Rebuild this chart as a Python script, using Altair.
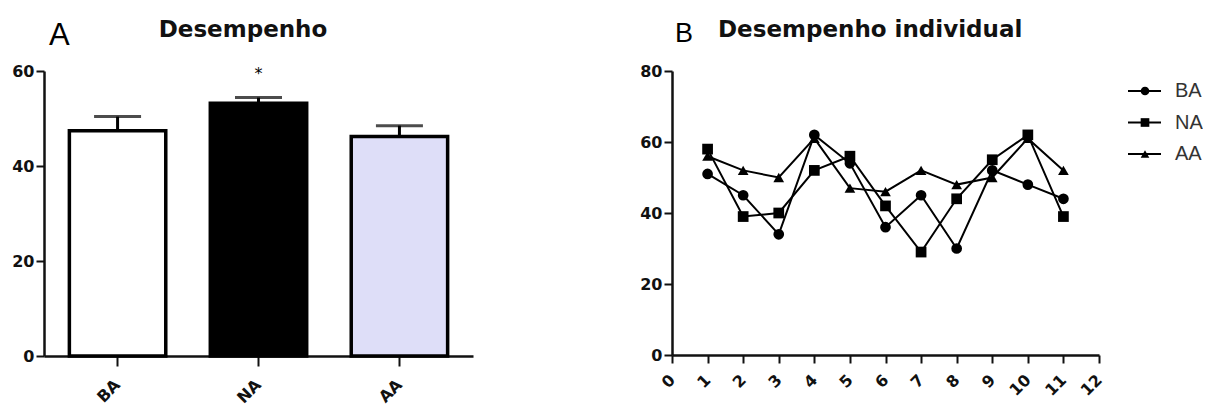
import altair as alt
import pandas as pd

# ---- Panel A data ----
groups = ["BA", "NA", "AA"]
means = [47.4, 53.2, 46.2]
err_top = [50.4, 54.4, 48.5]
signif = ["", "*", ""]
bar_fills = ["#ffffff", "#000000", "#dedef8"]
y_ticks_a = [0, 20, 40, 60]

# ---- Panel B data ----
sessions = list(range(1, 12))
ba = [51, 45, 34, 62, 54, 36, 45, 30, 52, 48, 44]
na = [58, 39, 40, 52, 56, 42, 29, 44, 55, 62, 39]
aa = [56, 52, 50, 61, 47, 46, 52, 48, 50, 61, 52]
series = ["BA", "NA", "AA"]
shapes = ["circle", "square", "triangle-up"]
x_ticks_b = list(range(0, 13))
y_ticks_b = [0, 20, 40, 60, 80]

panel_letters = ["A", "B"]
panel_titles = ["Desempenho", "Desempenho individual"]

LABEL_FONT = "DejaVu Sans"

# ---------------- Panel A ----------------
bar_df = pd.DataFrame({"group": groups, "mean": means, "err": err_top, "sig": signif})

xA = alt.X("group:N", sort=groups, title=None,
           scale=alt.Scale(paddingInner=0.316, paddingOuter=0.18),
           axis=alt.Axis(labelAngle=-45, labelAlign="right", labelBaseline="middle",
                         labelPadding=16, tickSize=10))
yA = alt.Y("mean:Q", title=None, scale=alt.Scale(domain=[0, 60], nice=False),
           axis=alt.Axis(values=y_ticks_a, minExtent=28, maxExtent=28, labelPadding=2))

bars = alt.Chart(bar_df).mark_bar(stroke="black", strokeWidth=3.5).encode(
    x=xA, y=yA,
    fill=alt.Fill("group:N", scale=alt.Scale(domain=groups, range=bar_fills), legend=None),
)
errs = alt.Chart(bar_df).mark_rule(strokeWidth=3, color="black").encode(
    x=alt.X("group:N", sort=groups), y="mean:Q", y2="err:Q")
caps = alt.Chart(bar_df).mark_tick(color="black", size=47, thickness=3, orient="horizontal").encode(
    x=alt.X("group:N", sort=groups), y="err:Q")
stars = alt.Chart(bar_df).mark_text(dy=-24, fontSize=16, font=LABEL_FONT, baseline="middle").encode(
    x=alt.X("group:N", sort=groups), y="err:Q", text="sig:N")

letterA = alt.Chart(pd.DataFrame({"t": [panel_letters[0]]})).mark_text(
    align="left", baseline="alphabetic", fontSize=31, font="Liberation Sans", color="black"
).encode(text="t:N", x=alt.value(5), y=alt.value(-26))
titleA = alt.Chart(pd.DataFrame({"t": [panel_titles[0]]})).mark_text(
    align="center", baseline="alphabetic", fontSize=23, font=LABEL_FONT, fontWeight="bold", color="#111"
).encode(text="t:N", x=alt.value(199), y=alt.value(-34))

chartA = alt.layer(bars, errs, caps, stars, letterA, titleA).properties(width=429, height=285)

# ---------------- Panel B ----------------
long_df = pd.DataFrame({
    "session": sessions * 3,
    "value": ba + na + aa,
    "series": [series[0]] * len(ba) + [series[1]] * len(na) + [series[2]] * len(aa),
})

xB = alt.X("session:Q", title=None, scale=alt.Scale(domain=[0, 12], nice=False),
           axis=alt.Axis(values=x_ticks_b, labelAngle=-45, labelAlign="right",
                         labelBaseline="middle", labelPadding=14))
yB = alt.Y("value:Q", title=None, scale=alt.Scale(domain=[0, 80], nice=False),
           axis=alt.Axis(values=y_ticks_b, minExtent=28, maxExtent=28, labelPadding=2))
shape_scale = alt.Scale(domain=series, range=shapes)

lines = alt.Chart(long_df).mark_line(color="black", strokeWidth=2).encode(
    x=xB, y=yB, detail="series:N")
pts = alt.Chart(long_df).mark_point(filled=True, color="black", size=115, opacity=1).encode(
    x=xB, y=yB, shape=alt.Shape("series:N", scale=shape_scale, legend=None))
main = alt.layer(lines, pts)

leg_df = pd.DataFrame({"series": series})
legY = alt.Y("series:N", sort=series, axis=None,
             scale=alt.Scale(type="point", domain=series, range=[20, 83], padding=0))
leg_rule = alt.Chart(leg_df).mark_rule(strokeWidth=2, color="black").encode(
    x=alt.value(456), x2=alt.value(489), y=legY)
leg_pt = alt.Chart(leg_df).mark_point(filled=True, color="black", size=75, opacity=1).encode(
    x=alt.value(473), y=legY, shape=alt.Shape("series:N", scale=shape_scale, legend=None))
leg_txt = alt.Chart(leg_df).mark_text(align="left", baseline="middle", fontSize=20,
                                      font="Liberation Sans", color="#333").encode(
    x=alt.value(503), y=legY, text="series:N")
legend = alt.layer(leg_rule, leg_pt, leg_txt)

letterB = alt.Chart(pd.DataFrame({"t": [panel_letters[1]]})).mark_text(
    align="left", baseline="alphabetic", fontSize=27, font="Liberation Sans", color="black"
).encode(text="t:N", x=alt.value(3), y=alt.value(-29))
titleB = alt.Chart(pd.DataFrame({"t": [panel_titles[1]]})).mark_text(
    align="left", baseline="alphabetic", fontSize=23, font=LABEL_FONT, fontWeight="bold", color="#111"
).encode(text="t:N", x=alt.value(46), y=alt.value(-34))

chartB = alt.layer(main, legend, letterB, titleB).resolve_scale(y="independent").properties(
    width=427, height=284)

chart = alt.hconcat(chartA, chartB, spacing=166).properties(
    padding={"left": 11, "top": 19, "right": 0, "bottom": 0}
).configure_view(stroke=None).configure_axis(
    domainColor="#111", domainWidth=2.5, tickColor="#111", tickWidth=2, tickSize=8,
    labelFont=LABEL_FONT, labelFontWeight="bold", labelFontSize=16, labelColor="#111",
    grid=False,
)

chart.save("out.html", embed_options={"renderer": "svg", "actions": False})
